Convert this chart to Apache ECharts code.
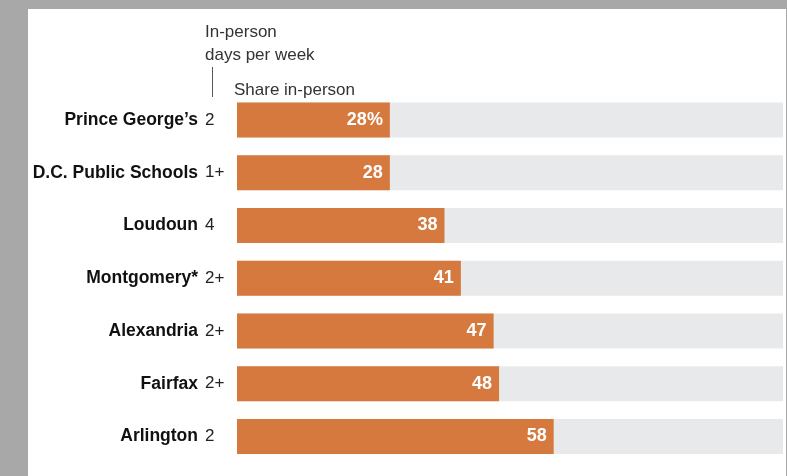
<!DOCTYPE html>
<html>
<head>
<meta charset="utf-8">
<script src="https://cdn.jsdelivr.net/npm/echarts@6/dist/echarts.min.js"></script>
<style>
html,body{margin:0;padding:0;width:787px;height:476px;background:#a8a8a8;overflow:hidden;}
#chart{position:absolute;left:28px;top:9px;width:758px;height:467px;background:#ffffff;}
</style>
</head>
<body>
<div id="chart"></div>
<script>
const categories = ["Prince George\u2019s", "D.C. Public Schools", "Loudoun", "Montgomery*", "Alexandria", "Fairfax", "Arlington"];
const daysPerWeek = ["2", "1+", "4", "2+", "2+", "2+", "2"];
const shareInPerson = [28, 28, 38, 41, 47, 48, 58];

const chart = echarts.init(document.getElementById('chart'), null, {renderer: 'canvas'});
const font = "'Liberation Sans', Arial, sans-serif";
const option = {
  animation: false,
  backgroundColor: '#ffffff',
  grid: {left: 209, top: 84.6, width: 546, height: 369.3, containLabel: false},
  xAxis: {type: 'value', min: 0, max: 100, show: false},
  yAxis: [{
    type: 'category', data: categories, inverse: true, position: 'left',
    axisLine: {show: false}, axisTick: {show: false}, splitLine: {show: false},
    axisLabel: {margin: 39, fontFamily: font, fontWeight: 'bold', fontSize: 17.5, color: '#111111'}
  }, {
    type: 'category', data: daysPerWeek, inverse: true, position: 'left',
    axisLine: {show: false}, axisTick: {show: false}, splitLine: {show: false},
    axisLabel: {margin: 32, align: 'left', fontFamily: font, fontSize: 17, color: '#222222'}
  }],
  series: [{
    type: 'bar', data: shareInPerson, barWidth: 35, yAxisIndex: 0,
    itemStyle: {color: '#d6793f'},
    showBackground: true,
    backgroundStyle: {color: '#e8e9ea'},
    label: {
      show: true, position: 'insideRight', distance: 7,
      color: '#ffffff', fontFamily: font, fontWeight: 'bold', fontSize: 18,
      formatter: function (p) { return p.dataIndex === 0 ? p.value + '%' : String(p.value); }
    }
  }],
  graphic: [
    {type: 'text', x: 177, y: 23, style: {text: 'In-person', fontFamily: font, fontSize: 17, fill: '#333333', verticalAlign: 'middle'}},
    {type: 'text', x: 177, y: 46, style: {text: 'days per week', fontFamily: font, fontSize: 17, fill: '#333333', verticalAlign: 'middle'}},
    {type: 'line', shape: {x1: 184.5, y1: 58, x2: 184.5, y2: 88}, style: {stroke: '#555555', lineWidth: 1}},
    {type: 'text', x: 206, y: 81, style: {text: 'Share in-person', fontFamily: font, fontSize: 17, fill: '#333333', verticalAlign: 'middle'}}
  ]
};
chart.setOption(option);
</script>
</body>
</html>
